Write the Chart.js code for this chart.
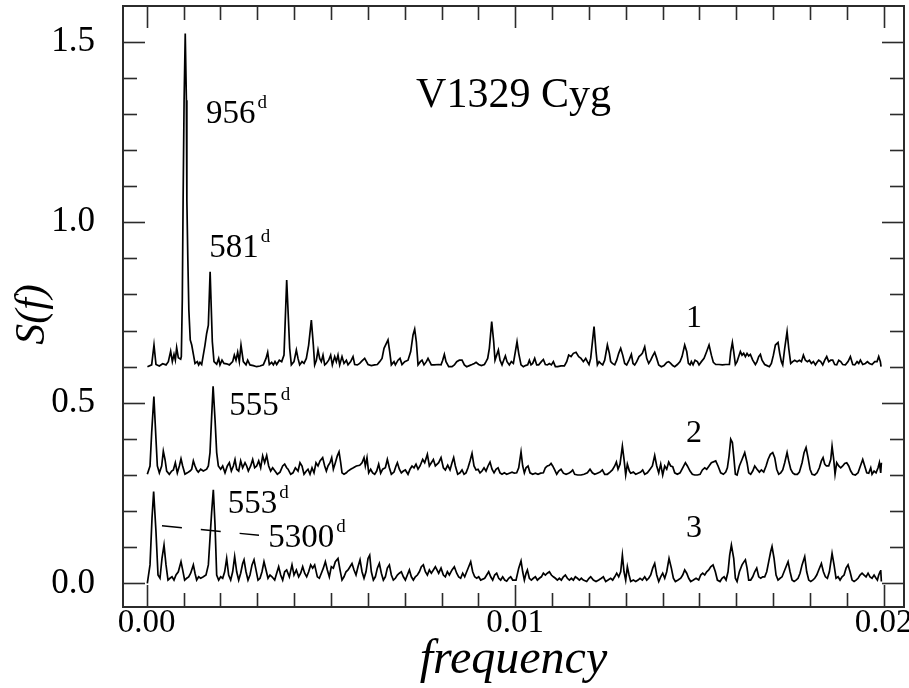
<!DOCTYPE html>
<html>
<head>
<meta charset="utf-8">
<title>V1329 Cyg periodograms</title>
<script src="https://cdn.jsdelivr.net/npm/chart.js@4/dist/chart.umd.min.js"></script>
<style>
  html, body { margin: 0; padding: 0; background: #fff; }
  #wrap { width: 909px; height: 688px; }
</style>
</head>
<body>
<div id="wrap"><canvas id="c" width="909" height="688"></canvas></div>
<script>
// Power spectra S(f) of V1329 Cyg for three data sets, as [frequency (1/d), power].
const curve1 = [[0.00002,0],[0.000135,0.005],[0.000198,0.060],[0.000252,0.006],[0.000343,0.002],[0.000433,0.008],[0.000524,0.005],[0.000587,0.014],[0.00065,0.043],[0.000696,0.014],[0.000741,0.034],[0.000777,0.018],[0.000813,0.053],[0.000858,0.025],[0.000922,0.021],[0.00094,0.028],[0.000966,0.185],[0.000988,0.461],[0.001015,0.738],[0.001046,0.923],[0.001077,0.738],[0.00109,0.461],[0.001117,0.295],[0.001144,0.157],[0.001182,0.074],[0.001222,0.060],[0.001266,0.035],[0.001311,0.009],[0.001374,0.014],[0.00141,0.005],[0.001446,0.012],[0.001492,0.006],[0.001582,0.060],[0.001627,0.092],[0.001673,0.115],[0.001721,0.263],[0.001781,0.069],[0.001826,0.014],[0.001899,0.007],[0.001953,0.023],[0.001989,0.005],[0.002044,0.018],[0.002098,0.009],[0.00217,0.008],[0.002243,0.005],[0.002333,0.014],[0.002378,0.032],[0.002423,0.018],[0.002469,0.040],[0.002514,0.014],[0.002559,0.060],[0.002622,0.014],[0.002695,0.005],[0.00274,0.018],[0.002803,0.005],[0.002894,0.003],[0.002984,0],[0.003075,0.002],[0.003165,0.005],[0.003238,0.023],[0.003283,0.040],[0.003328,0.006],[0.003391,0.012],[0.003437,0.005],[0.003482,0.014],[0.003527,0.006],[0.003599,0.018],[0.003663,0.014],[0.003726,0.032],[0.003799,0.240],[0.00388,0.051],[0.003925,0.005],[0.003997,0.014],[0.004061,0.046],[0.004106,0.023],[0.004151,0.005],[0.004215,0.014],[0.004269,0.009],[0.004332,0.023],[0.004395,0.060],[0.004468,0.129],[0.004522,0.060],[0.004558,0.005],[0.004604,0.018],[0.004649,0.046],[0.004694,0.023],[0.004739,0.014],[0.004784,0.032],[0.00483,0.005],[0.004875,0.009],[0.004938,0.018],[0.004992,0.032],[0.005038,0.005],[0.005101,0.028],[0.005146,0.014],[0.005191,0.032],[0.005237,0.005],[0.0053,0.028],[0.005354,0.009],[0.005418,0.018],[0.005463,0.005],[0.005535,0.014],[0.005599,0.028],[0.005644,0.006],[0.005716,0.005],[0.00578,0.009],[0.005843,0.016],[0.005915,0.023],[0.006006,0.006],[0.006096,0.003],[0.006187,0.005],[0.006259,0.006],[0.006322,0.014],[0.006386,0.023],[0.00644,0.051],[0.006548,0.074],[0.006594,0.042],[0.006639,0.005],[0.006711,0.014],[0.006748,0.005],[0.00682,0.018],[0.006874,0.023],[0.006928,0.006],[0.007001,0.014],[0.007091,0.018],[0.007164,0.042],[0.007227,0.088],[0.007272,0.104],[0.007317,0.069],[0.007363,0.005],[0.007426,0.014],[0.007471,0.018],[0.007525,0.005],[0.007589,0.014],[0.007634,0.023],[0.007679,0.014],[0.007724,0.005],[0.007797,0.005],[0.007923,0.006],[0.007987,0.005],[0.008032,0.018],[0.008077,0.034],[0.008122,0.014],[0.008195,0],[0.008285,0],[0.008348,0.005],[0.008412,0.014],[0.008484,0.018],[0.008557,0.018],[0.00862,0.005],[0.008683,0],[0.008756,0.003],[0.008828,0.006],[0.008891,0.009],[0.008937,0.012],[0.009009,0.006],[0.009081,0.003],[0.009163,0.006],[0.009208,0.014],[0.009253,0.023],[0.009298,0.051],[0.009362,0.125],[0.009416,0.069],[0.009452,0.018],[0.009497,0.032],[0.009543,0.046],[0.009588,0.018],[0.009642,0.005],[0.009687,0.018],[0.009733,0.030],[0.009778,0.014],[0.009841,0.005],[0.009895,0.014],[0.00995,0.009],[0.010004,0.042],[0.010049,0.069],[0.010095,0.037],[0.010158,0.005],[0.010221,0],[0.010275,0.003],[0.010339,0.005],[0.010384,0.018],[0.010429,0.005],[0.010474,0.009],[0.010529,0.023],[0.010583,0.005],[0.010637,0.005],[0.01071,0.014],[0.010764,0.020],[0.010818,0.006],[0.010872,0.005],[0.010927,0.009],[0.010981,0.005],[0.011035,0.014],[0.01109,0],[0.011153,0],[0.011243,0.002],[0.011334,0.002],[0.011397,0.014],[0.011451,0.032],[0.011515,0.028],[0.011578,0.037],[0.01165,0.040],[0.011723,0.028],[0.011786,0.023],[0.011849,0.014],[0.011913,0.023],[0.011958,0.014],[0.012003,0.006],[0.012048,0.023],[0.012139,0.111],[0.012193,0.042],[0.01223,0.005],[0.012275,0.014],[0.01232,0.009],[0.012374,0.005],[0.012428,0.018],[0.012501,0.060],[0.012555,0.037],[0.012591,0.014],[0.012636,0.009],[0.0127,0.005],[0.012754,0.018],[0.012808,0.037],[0.012862,0.051],[0.012917,0.032],[0.012971,0.009],[0.013025,0.005],[0.013089,0.018],[0.013152,0.034],[0.013197,0.009],[0.013242,0.005],[0.013297,0.014],[0.01336,0.028],[0.013405,0.032],[0.01345,0.037],[0.013514,0.055],[0.013568,0.023],[0.013622,0.009],[0.013677,0.018],[0.013731,0.030],[0.013785,0.040],[0.01384,0.023],[0.013894,0.005],[0.013966,0],[0.014038,0.003],[0.014111,0.012],[0.014165,0.014],[0.014219,0.009],[0.014274,0.003],[0.014328,0],[0.0144,0.006],[0.014473,0.014],[0.014527,0.028],[0.014599,0.060],[0.014654,0.042],[0.014699,0.009],[0.014744,0.005],[0.01478,0.014],[0.014826,0.005],[0.01488,0.018],[0.014943,0.014],[0.014988,0.005],[0.015052,0.014],[0.015124,0.023],[0.015196,0.042],[0.01526,0.060],[0.015323,0.032],[0.015377,0.012],[0.015441,0.006],[0.015531,0.006],[0.015622,0.005],[0.015712,0.006],[0.015812,0.006],[0.015848,0.042],[0.015893,0.067],[0.015929,0.042],[0.015974,0.006],[0.01602,0.014],[0.016065,0.028],[0.01611,0.042],[0.016155,0.032],[0.0162,0.037],[0.016246,0.028],[0.016291,0.037],[0.016336,0.030],[0.016381,0.034],[0.016445,0.018],[0.016517,0.006],[0.016562,0.014],[0.016608,0.028],[0.016653,0.034],[0.016698,0.018],[0.01677,0.006],[0.016834,0.003],[0.016897,0],[0.016951,0.009],[0.017006,0.032],[0.01706,0.060],[0.017132,0.067],[0.017177,0.037],[0.017223,0.014],[0.017259,0.005],[0.017313,0.051],[0.017377,0.097],[0.017422,0.051],[0.017476,0.009],[0.017531,0.014],[0.017585,0.018],[0.017648,0.014],[0.017711,0.018],[0.017766,0.014],[0.01782,0.032],[0.017874,0.018],[0.017928,0.014],[0.017983,0.018],[0.018037,0.009],[0.018091,0.014],[0.018146,0.005],[0.018191,0.012],[0.018236,0.018],[0.01829,0.014],[0.018345,0.005],[0.018399,0.018],[0.018453,0.028],[0.018507,0.014],[0.018562,0.018],[0.018616,0.018],[0.01867,0.006],[0.018724,0.005],[0.018779,0.018],[0.018833,0.014],[0.018887,0.006],[0.01896,0.005],[0.019032,0.014],[0.019095,0.028],[0.019159,0.006],[0.019213,0.005],[0.019276,0.014],[0.019322,0.009],[0.019367,0.018],[0.01943,0.006],[0.019502,0.009],[0.019557,0.014],[0.019611,0.009],[0.019683,0.006],[0.019756,0.014],[0.019819,0.014],[0.019864,0.028],[0.019909,0.014],[0.019927,0]];

const curve2 = [[0.000017,0.002],[0.00009,0.025],[0.000135,0.117],[0.000195,0.217],[0.000252,0.099],[0.000289,0.025],[0.000343,0.006],[0.000406,0.025],[0.000451,0.066],[0.000497,0.043],[0.000542,0.011],[0.000614,0.002],[0.000678,0.011],[0.000723,0.014],[0.000777,0.034],[0.000831,0.006],[0.000886,0.025],[0.000931,0.045],[0.000976,0.025],[0.001039,0.002],[0.001103,0.006],[0.001175,0.011],[0.00122,0.016],[0.001266,0.039],[0.001311,0.025],[0.001356,0.014],[0.001401,0.008],[0.001465,0.016],[0.001537,0.011],[0.001627,0.016],[0.001673,0.025],[0.001718,0.062],[0.001763,0.163],[0.001802,0.246],[0.001854,0.154],[0.001899,0.062],[0.001944,0.025],[0.002007,0.016],[0.002062,0.025],[0.002125,0.006],[0.002188,0.025],[0.002243,0.034],[0.002297,0.011],[0.002351,0.025],[0.002396,0.043],[0.002442,0.016],[0.002496,0.011],[0.00255,0.039],[0.002604,0.020],[0.002668,0.034],[0.002713,0.025],[0.002758,0.011],[0.002821,0.025],[0.002876,0.043],[0.00293,0.020],[0.002984,0.025],[0.003039,0.039],[0.003093,0.020],[0.003147,0.053],[0.003201,0.034],[0.003256,0.054],[0.00331,0.025],[0.003364,0.011],[0.003418,0.020],[0.003482,0.011],[0.003545,0.002],[0.003618,0.008],[0.00369,0.025],[0.003744,0.030],[0.003798,0.020],[0.003835,0.016],[0.003907,0.002],[0.00397,0.006],[0.004034,0.020],[0.004106,0.011],[0.00416,0.034],[0.004215,0.025],[0.004269,0.002],[0.004332,0.011],[0.004377,0.016],[0.004432,0.002],[0.004486,0.020],[0.00454,0.006],[0.004594,0.034],[0.004649,0.025],[0.004703,0.039],[0.004775,0.048],[0.00483,0.025],[0.004875,0.011],[0.00492,0.025],[0.004974,0.034],[0.00502,0.048],[0.005065,0.016],[0.005119,0.034],[0.005173,0.053],[0.005219,0.064],[0.005264,0.034],[0.0053,0.006],[0.005354,0.002],[0.005418,0.006],[0.005463,0.011],[0.005535,0.016],[0.005608,0.020],[0.005689,0.025],[0.00578,0.027],[0.005843,0.034],[0.005897,0.048],[0.005933,0.025],[0.005978,0.048],[0.006024,0.006],[0.006078,0.016],[0.006132,0.006],[0.006187,0.002],[0.006241,0.011],[0.006295,0.030],[0.006349,0.005],[0.006404,0.016],[0.006476,0.020],[0.00653,0.043],[0.006585,0.020],[0.006639,0.002],[0.006711,0.008],[0.006765,0.025],[0.006802,0.034],[0.006856,0.016],[0.00691,0.006],[0.006965,0.011],[0.007019,0.014],[0.007091,0.002],[0.007146,0.016],[0.0072,0.025],[0.007254,0.020],[0.007308,0.030],[0.007363,0.016],[0.007417,0.025],[0.007489,0.043],[0.007544,0.034],[0.007616,0.057],[0.00767,0.025],[0.007724,0.034],[0.007779,0.043],[0.007833,0.025],[0.007923,0.034],[0.007987,0.048],[0.00805,0.020],[0.008104,0.014],[0.008168,0.027],[0.008231,0.014],[0.008285,0.034],[0.00833,0.048],[0.008376,0.025],[0.008439,0.002],[0.008502,0.006],[0.008557,0.014],[0.008611,0.002],[0.008665,0.006],[0.008719,0.020],[0.008774,0.039],[0.008828,0.060],[0.008882,0.025],[0.008937,0.014],[0.008991,0.016],[0.009045,0.006],[0.009099,0.011],[0.009154,0.020],[0.009208,0.011],[0.009262,0.025],[0.009316,0.036],[0.009371,0.016],[0.009425,0.006],[0.009479,0.016],[0.009534,0.020],[0.009588,0.006],[0.009642,0.002],[0.009705,0.006],[0.009769,0.002],[0.009841,0.005],[0.009914,0.008],[0.009977,0.005],[0.01004,0.006],[0.010095,0.020],[0.010158,0.064],[0.010203,0.025],[0.010248,0.006],[0.010294,0.020],[0.010348,0.025],[0.010402,0.006],[0.010474,0.002],[0.010547,0.005],[0.010619,0.002],[0.010692,0.005],[0.010764,0.006],[0.010818,0.020],[0.010872,0.025],[0.010927,0.027],[0.010972,0.032],[0.011017,0.025],[0.011071,0.014],[0.011126,0.002],[0.01118,0.011],[0.011243,0.016],[0.011307,0.005],[0.011379,0.002],[0.011451,0.005],[0.011506,0.008],[0.01156,0.014],[0.011614,0.002],[0.011696,0],[0.011786,0],[0.011868,0.002],[0.011958,0.006],[0.01203,0.016],[0.012094,0.006],[0.012157,0.002],[0.01223,0.005],[0.012302,0.008],[0.012365,0.014],[0.012428,0.002],[0.012501,0.002],[0.012573,0.008],[0.012636,0.014],[0.0127,0.025],[0.012745,0.036],[0.01279,0.016],[0.012844,0.030],[0.012908,0.080],[0.012953,0.043],[0.012998,0],[0.013043,0.030],[0.013098,0.011],[0.013134,0.005],[0.013206,0.008],[0.01327,0.002],[0.013333,0.005],[0.013405,0.008],[0.013459,0.014],[0.013514,0.002],[0.013586,0.006],[0.013659,0.016],[0.013722,0.025],[0.013785,0.054],[0.01384,0.025],[0.013894,0.006],[0.013948,0.030],[0.014002,0],[0.014057,0.025],[0.014111,0.016],[0.014165,0.036],[0.014219,0.025],[0.014274,0.023],[0.014328,0.006],[0.0144,0.002],[0.014473,0.006],[0.014545,0.020],[0.014618,0.034],[0.014672,0.025],[0.014744,0.011],[0.014807,0.002],[0.014871,0],[0.014943,0],[0.015016,0.002],[0.015079,0.014],[0.015142,0.020],[0.015196,0.016],[0.01526,0.025],[0.015323,0.034],[0.015441,0.039],[0.015504,0.025],[0.015576,0.006],[0.015649,0.002],[0.015712,0.008],[0.015757,0.020],[0.015803,0.053],[0.015848,0.099],[0.015893,0.090],[0.015929,0.053],[0.015974,0.002],[0.01602,0],[0.016083,0.025],[0.016155,0.043],[0.016228,0.062],[0.016291,0.034],[0.016336,0.006],[0.01639,0.002],[0.016445,0.011],[0.016499,0.025],[0.016562,0.016],[0.016626,0.008],[0.01668,0.014],[0.016743,0.008],[0.016807,0.025],[0.016861,0.043],[0.016924,0.057],[0.016988,0.062],[0.017042,0.048],[0.017096,0.016],[0.01715,0.002],[0.017205,0.006],[0.017259,0.014],[0.017313,0.034],[0.017377,0.062],[0.017422,0.039],[0.017476,0.016],[0.017531,0.006],[0.017585,0.002],[0.017657,0.002],[0.017711,0.008],[0.017784,0.034],[0.017838,0.062],[0.017892,0.076],[0.017946,0.048],[0.018001,0.016],[0.018055,0.002],[0.018127,0],[0.018191,0.006],[0.018254,0.020],[0.018308,0.039],[0.018354,0.048],[0.018399,0.030],[0.018444,0.025],[0.018507,0.025],[0.018562,0.043],[0.018598,0.080],[0.018643,0.043],[0.018679,0.002],[0.018724,0.034],[0.018779,0.025],[0.018833,0.020],[0.018887,0.025],[0.018941,0.032],[0.018996,0.034],[0.01905,0.025],[0.019104,0.011],[0.019159,0.002],[0.019231,0],[0.019303,0.006],[0.019367,0.025],[0.01943,0.043],[0.019484,0.025],[0.019539,0.006],[0.019593,0.005],[0.019647,0.020],[0.019683,0.002],[0.019738,0.011],[0.019792,0.006],[0.019846,0.020],[0.019882,0.034],[0.019918,0.006],[0.019936,0.034]];

const curve3 = [[0.000017,0],[0.00009,0.051],[0.000144,0.180],[0.0001887,0.254],[0.000252,0.143],[0.000307,0.023],[0.000361,0.014],[0.000415,0.069],[0.00047,0.106],[0.000524,0.051],[0.000578,0.009],[0.000632,0.014],[0.000687,0.018],[0.000741,0.009],[0.000795,0.023],[0.000858,0.032],[0.000931,0.060],[0.000976,0.037],[0.00103,0.009],[0.001085,0.014],[0.001139,0.018],[0.001193,0.028],[0.001266,0.051],[0.001311,0.028],[0.001356,0.009],[0.00141,0.018],[0.001465,0.014],[0.001537,0.018],[0.001609,0.023],[0.001673,0.051],[0.001718,0.125],[0.001763,0.198],[0.001808,0.259],[0.001854,0.162],[0.001899,0.023],[0.001953,0.009],[0.002007,0.018],[0.002062,0.014],[0.002116,0.032],[0.00217,0.069],[0.002224,0.023],[0.002279,0.009],[0.002333,0.032],[0.002387,0.074],[0.002442,0.032],[0.002496,0.009],[0.00255,0.028],[0.002604,0.055],[0.002641,0.065],[0.002695,0.032],[0.002749,0.009],[0.002803,0.023],[0.002858,0.051],[0.002912,0.065],[0.002966,0.037],[0.003021,0.009],[0.003075,0.014],[0.003129,0.032],[0.003183,0.060],[0.003238,0.037],[0.003292,0.014],[0.003346,0.023],[0.0034,0.018],[0.003473,0.009],[0.003527,0.028],[0.003581,0.046],[0.003636,0.023],[0.00369,0.009],[0.003744,0.032],[0.003798,0.037],[0.003871,0.018],[0.003943,0.051],[0.003997,0.023],[0.004061,0.037],[0.004124,0.018],[0.004178,0.028],[0.004233,0.046],[0.004287,0.028],[0.004341,0.018],[0.004395,0.032],[0.00445,0.051],[0.004504,0.042],[0.004558,0.051],[0.004631,0.018],[0.004685,0.014],[0.004739,0.028],[0.004793,0.042],[0.004848,0.060],[0.004902,0.037],[0.004956,0.018],[0.00501,0.046],[0.005065,0.042],[0.005119,0.060],[0.005191,0.069],[0.005246,0.037],[0.0053,0.009],[0.005354,0.018],[0.005409,0.032],[0.005463,0.037],[0.005517,0.046],[0.005571,0.055],[0.005626,0.037],[0.00568,0.023],[0.005734,0.046],[0.005789,0.065],[0.005843,0.032],[0.005897,0.014],[0.005951,0.032],[0.006006,0.069],[0.006051,0.078],[0.006096,0.032],[0.006151,0.009],[0.006205,0.018],[0.006259,0.042],[0.006313,0.055],[0.006368,0.028],[0.006422,0.009],[0.006476,0.018],[0.00653,0.042],[0.006585,0.051],[0.006639,0.023],[0.006693,0.009],[0.006748,0.014],[0.006802,0.023],[0.006856,0.028],[0.00691,0.032],[0.006965,0.018],[0.007019,0.009],[0.007073,0.023],[0.007128,0.037],[0.007182,0.018],[0.007236,0.009],[0.00729,0.018],[0.007345,0.023],[0.007399,0.032],[0.007453,0.046],[0.007507,0.051],[0.007562,0.032],[0.007616,0.023],[0.00767,0.037],[0.007724,0.028],[0.007779,0.037],[0.007833,0.046],[0.007923,0.028],[0.007987,0.042],[0.00805,0.023],[0.008104,0.018],[0.008159,0.032],[0.008213,0.023],[0.008285,0.037],[0.008348,0.046],[0.008412,0.028],[0.008466,0.018],[0.00852,0.014],[0.008575,0.028],[0.008629,0.018],[0.008683,0.032],[0.008738,0.046],[0.008792,0.060],[0.008846,0.032],[0.0089,0.018],[0.008955,0.014],[0.009009,0.018],[0.009063,0.009],[0.009172,0.014],[0.009226,0.023],[0.00928,0.032],[0.009335,0.018],[0.009389,0.009],[0.009443,0.023],[0.009497,0.028],[0.009552,0.014],[0.009606,0.009],[0.00966,0.018],[0.009715,0.009],[0.009769,0.006],[0.009823,0.014],[0.009877,0.018],[0.009932,0.009],[0.010022,0.009],[0.010095,0.042],[0.010158,0.062],[0.010203,0.032],[0.010248,0.009],[0.010294,0.028],[0.01033,0.037],[0.010384,0.014],[0.010438,0.009],[0.010492,0.014],[0.010547,0.018],[0.010601,0.009],[0.010655,0.014],[0.01071,0.018],[0.010764,0.028],[0.010818,0.023],[0.010872,0.028],[0.010927,0.032],[0.010981,0.023],[0.011035,0.018],[0.01109,0.014],[0.011144,0.009],[0.011198,0.014],[0.011252,0.009],[0.011307,0.018],[0.011361,0.023],[0.011415,0.014],[0.01147,0.009],[0.011524,0.014],[0.011578,0.009],[0.011632,0.018],[0.011687,0.014],[0.011741,0.009],[0.011795,0.014],[0.011849,0.009],[0.01194,0.005],[0.012003,0.014],[0.012048,0.018],[0.012121,0.009],[0.012193,0.005],[0.012266,0.009],[0.012338,0.014],[0.012392,0.018],[0.012456,0.005],[0.012519,0.009],[0.012591,0.014],[0.012645,0.009],[0.0127,0.018],[0.012754,0.028],[0.012808,0.018],[0.012862,0.032],[0.012908,0.078],[0.012953,0.032],[0.012998,0.009],[0.013043,0.046],[0.013089,0.023],[0.013134,0.005],[0.013206,0.009],[0.01327,0.005],[0.013333,0.009],[0.013387,0.014],[0.01345,0.009],[0.013514,0.018],[0.013568,0.009],[0.013622,0.014],[0.013677,0.023],[0.013731,0.042],[0.013785,0.055],[0.01384,0.023],[0.013894,0.005],[0.013948,0.018],[0.014002,0.028],[0.014057,0.014],[0.014111,0.032],[0.014174,0.069],[0.014237,0.042],[0.014292,0.014],[0.014346,0.005],[0.014419,0.009],[0.014491,0.014],[0.014545,0.023],[0.014599,0.037],[0.014654,0.028],[0.014708,0.014],[0.014762,0.005],[0.014835,0.009],[0.014907,0.014],[0.014979,0.009],[0.015034,0.023],[0.015088,0.028],[0.015142,0.023],[0.015196,0.032],[0.015251,0.037],[0.015305,0.046],[0.015368,0.051],[0.015431,0.032],[0.015486,0.009],[0.015558,0.005],[0.015612,0.014],[0.015667,0.018],[0.015721,0.009],[0.015775,0.032],[0.01582,0.078],[0.015866,0.106],[0.015929,0.069],[0.015974,0.014],[0.01602,0.005],[0.016083,0.032],[0.016155,0.051],[0.01621,0.060],[0.016246,0.065],[0.016291,0.042],[0.016336,0.009],[0.01639,0.009],[0.016445,0.018],[0.016499,0.032],[0.016553,0.042],[0.016608,0.018],[0.016662,0.014],[0.016716,0.018],[0.01677,0.018],[0.016825,0.032],[0.016879,0.060],[0.016933,0.088],[0.016969,0.102],[0.017024,0.069],[0.017078,0.023],[0.017132,0.009],[0.017187,0.014],[0.017241,0.018],[0.017295,0.032],[0.017349,0.046],[0.017404,0.060],[0.017458,0.032],[0.017512,0.009],[0.017567,0.005],[0.017621,0.009],[0.017675,0.014],[0.017729,0.028],[0.017784,0.051],[0.017856,0.074],[0.01791,0.032],[0.017965,0.009],[0.018019,0.005],[0.018073,0.009],[0.018127,0.014],[0.018182,0.023],[0.018236,0.037],[0.018308,0.055],[0.018363,0.032],[0.018417,0.018],[0.018471,0.014],[0.018525,0.032],[0.018598,0.083],[0.018652,0.051],[0.018706,0.014],[0.018761,0.018],[0.018815,0.009],[0.018869,0.018],[0.018924,0.023],[0.018978,0.042],[0.019032,0.051],[0.019086,0.032],[0.019141,0.009],[0.019195,0.005],[0.019249,0.009],[0.019303,0.014],[0.019358,0.023],[0.019412,0.028],[0.019466,0.023],[0.019521,0.018],[0.019575,0.028],[0.019629,0.018],[0.019683,0.014],[0.019738,0.023],[0.019792,0.014],[0.019828,0.009],[0.019864,0.023],[0.0199,0.032],[0.019918,0.037],[0.019936,0.005]];

// Vertical offsets that stack the three spectra, and their labels.
const curveOffsets = [0.6, 0.3, 0.0];
const curveNames = ['1', '2', '3'];

// Periods (days) of the marked peaks.
const periods = [956, 581, 555, 553, 5300];

// Axis ticks.
const xTickValues = [0.00, 0.01, 0.02];
const yTickValues = [0.0, 0.5, 1.0, 1.5];
const xMinorStep = 0.001;
const yMinorStep = 0.1;

const FONT = "'Liberation Serif', 'Times New Roman', serif";

// Where the texts sit, in data coordinates (left/baseline anchors).
const periodAnchors = [[0.00161, 1.274], [0.00170, 0.904], [0.00224, 0.466], [0.00220, 0.194], [0.00330, 0.101]];
const curveNameAnchors = [[0.01485, 0.710], [0.01485, 0.392], [0.01485, 0.127]];
const titleAnchor = [0.00731, 1.319];
const leader = [[0.000415, 0.1595], [0.003047, 0.133]];

const datasets = [curve1, curve2, curve3].map((curve, k) => ({
  label: curveNames[k],
  data: curve.map(([f, p]) => ({ x: f, y: p + curveOffsets[k] })),
  borderColor: '#000',
  borderWidth: 1.7,
  pointRadius: 0,
  tension: 0,
  fill: false
}));

// Box frame with inward ticks on all four sides.
const framePlugin = {
  id: 'frameTicks',
  afterDatasetsDraw(chart) {
    const { ctx, chartArea: a, scales: { x, y } } = chart;
    ctx.save();
    ctx.strokeStyle = '#2b2b2b';
    ctx.lineWidth = 1.6;
    ctx.lineCap = 'butt';
    const seg = (x0, y0, x1, y1) => { ctx.beginPath(); ctx.moveTo(x0, y0); ctx.lineTo(x1, y1); ctx.stroke(); };
    const isMajor = (v, list) => list.some(m => Math.abs(m - v) < 1e-9);

    const x0 = xTickValues[0], x1 = xTickValues[xTickValues.length - 1];
    const nx = Math.round((x1 - x0) / xMinorStep);
    for (let i = 0; i <= nx; i++) {
      const v = +(x0 + i * xMinorStep).toFixed(6);
      const px = Math.round(x.getPixelForValue(v)) + 0.5;
      const len = isMajor(v, xTickValues) ? 22 : 14;
      seg(px, a.bottom, px, a.bottom - len);
      seg(px, a.top, px, a.top + len);
    }
    const y0 = yTickValues[0], y1 = yTickValues[yTickValues.length - 1];
    const ny = Math.round((y1 - y0) / yMinorStep);
    for (let i = 0; i <= ny; i++) {
      const v = +(y0 + i * yMinorStep).toFixed(6);
      const py = Math.round(y.getPixelForValue(v)) + 0.5;
      const len = isMajor(v, yTickValues) ? 22 : 14;
      seg(a.left, py, a.left + len, py);
      seg(a.right, py, a.right - len, py);
    }
    ctx.lineWidth = 2;
    ctx.strokeRect(a.left, a.top, a.right - a.left, a.bottom - a.top);
    ctx.restore();
  }
};

// Title, axis title S(f), period labels, curve numbers and the dashed pointer.
const labelPlugin = {
  id: 'annotations',
  afterDraw(chart) {
    const { ctx, chartArea: a, scales: { x, y } } = chart;
    ctx.save();
    ctx.fillStyle = '#000';
    ctx.textBaseline = 'alphabetic';

    ctx.font = `42px ${FONT}`;
    ctx.textAlign = 'left';
    ctx.fillText('V1329 Cyg', x.getPixelForValue(titleAnchor[0]), y.getPixelForValue(titleAnchor[1]));

    periods.forEach((p, i) => {
      const px = x.getPixelForValue(periodAnchors[i][0]);
      const py = y.getPixelForValue(periodAnchors[i][1]);
      ctx.font = `33px ${FONT}`;
      ctx.textAlign = 'left';
      const txt = String(p);
      ctx.fillText(txt, px, py);
      const w = ctx.measureText(txt).width;
      ctx.font = `19px ${FONT}`;
      ctx.fillText('d', px + w + 2, py - 15);
    });

    ctx.font = `32px ${FONT}`;
    ctx.textAlign = 'center';
    curveNames.forEach((n, i) => {
      ctx.fillText(n, x.getPixelForValue(curveNameAnchors[i][0]), y.getPixelForValue(curveNameAnchors[i][1]));
    });

    // vertical axis title, reading upwards, a little below the middle of the axis
    ctx.save();
    ctx.translate(33, (a.top + a.bottom) / 2 + 8);
    ctx.rotate(-Math.PI / 2);
    ctx.font = `italic 42px ${FONT}`;
    ctx.textAlign = 'center';
    ctx.textBaseline = 'middle';
    ctx.fillText('S(f)', 0, 0);
    ctx.restore();

    ctx.strokeStyle = '#000';
    ctx.lineWidth = 1.4;
    ctx.setLineDash([20, 19]);
    ctx.beginPath();
    ctx.moveTo(x.getPixelForValue(leader[0][0]), y.getPixelForValue(leader[0][1]));
    ctx.lineTo(x.getPixelForValue(leader[1][0]), y.getPixelForValue(leader[1][1]));
    ctx.stroke();
    ctx.restore();
  }
};

new Chart(document.getElementById('c'), {
  type: 'line',
  data: { datasets },
  options: {
    responsive: false,
    devicePixelRatio: 1,
    animation: false,
    events: [],
    layout: { padding: { top: 6, right: 5, left: 0, bottom: 0 } },
    plugins: { legend: { display: false }, tooltip: { enabled: false }, title: { display: false } },
    scales: {
      x: {
        type: 'linear',
        min: -0.000643,
        max: 0.02055,
        afterBuildTicks: s => { s.ticks = xTickValues.map(v => ({ value: v })); },
        ticks: {
          callback: v => Number(v).toFixed(2),
          font: { family: FONT, size: 33, lineHeight: 1 },
          color: '#000',
          padding: 0,
          maxRotation: 0,
          autoSkip: false
        },
        grid: { display: false, drawTicks: false },
        border: { display: false },
        title: {
          display: true,
          text: 'frequency',
          color: '#000',
          font: { family: FONT, size: 48, style: 'italic', lineHeight: 1 },
          padding: { top: 4, bottom: 4 }
        },
        afterFit: s => { s.height = 81; s.paddingLeft = 0; s.paddingRight = 0; }
      },
      y: {
        type: 'linear',
        min: -0.0656,
        max: 1.599,
        afterBuildTicks: s => { s.ticks = yTickValues.map(v => ({ value: v })); },
        ticks: {
          callback: v => Number(v).toFixed(1),
          font: { family: FONT, size: 35, lineHeight: 1 },
          color: '#000',
          padding: 28
        },
        grid: { display: false, drawTicks: false },
        border: { display: false },
        title: { display: false },
        afterFit: s => { s.width = 123; s.paddingTop = 0; s.paddingBottom = 0; }
      }
    }
  },
  plugins: [framePlugin, labelPlugin]
});
</script>
</body>
</html>
